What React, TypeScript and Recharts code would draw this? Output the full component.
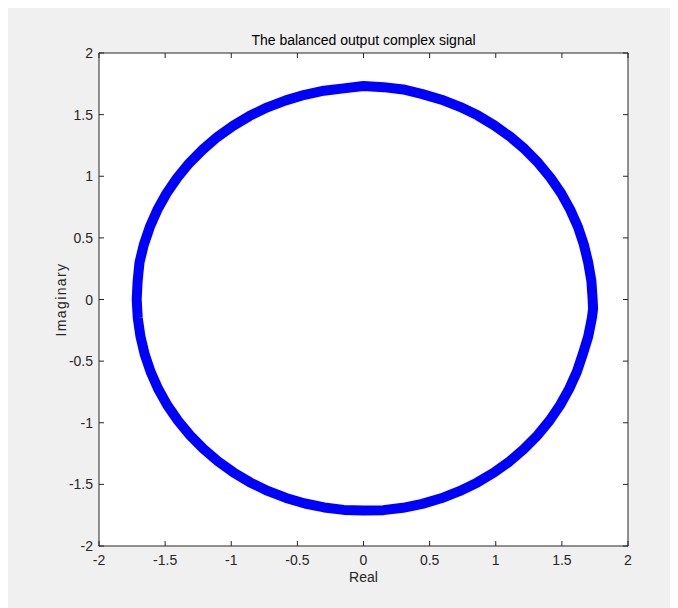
import React from 'react';
import { ScatterChart, Scatter, XAxis, YAxis, CartesianGrid } from 'recharts';

// Points read around the traced curve (counter-clockwise from the right side)
const realValues = [
  1.732, 1.723, 1.699, 1.666, 1.621, 1.563, 1.494, 1.413, 1.321, 1.22,
  1.109, 0.989, 0.863, 0.729, 0.59, 0.446, 0.3, 0.151, 0.0,
  -0.15, -0.299, -0.445, -0.588, -0.727, -0.86, -0.987, -1.106, -1.216,
  -1.318, -1.409, -1.49, -1.559, -1.616, -1.661, -1.694, -1.708, -1.715,
  -1.707, -1.687, -1.655, -1.61, -1.553, -1.484, -1.403, -1.312, -1.211,
  -1.101, -0.983, -0.857, -0.724, -0.586, -0.443, -0.297, -0.149, 0.0,
  0.15, 0.298, 0.444, 0.587, 0.725, 0.858, 0.984, 1.103, 1.213,
  1.315, 1.406, 1.486, 1.555, 1.613, 1.658, 1.699, 1.727, 1.736, 1.732,
];
const imagValues = [
  0.01, 0.151, 0.3, 0.446, 0.59, 0.729, 0.863, 0.989, 1.109, 1.22,
  1.321, 1.413, 1.494, 1.563, 1.621, 1.666, 1.704, 1.723, 1.732,
  1.713, 1.694, 1.661, 1.616, 1.559, 1.49, 1.409, 1.318, 1.216,
  1.106, 0.987, 0.86, 0.727, 0.588, 0.445, 0.299, 0.149, 0.0,
  -0.149, -0.297, -0.443, -0.586, -0.724, -0.857, -0.983, -1.101, -1.211,
  -1.312, -1.403, -1.484, -1.553, -1.61, -1.655, -1.687, -1.707, -1.712,
  -1.709, -1.69, -1.658, -1.613, -1.555, -1.486, -1.406, -1.315, -1.213,
  -1.103, -0.984, -0.858, -0.725, -0.587, -0.444, -0.3, -0.151, -0.075, 0.01,
];
const axisTicks = [-2, -1.5, -1, -0.5, 0, 0.5, 1, 1.5, 2];

const points = realValues.map((re, i) => ({ re, im: imagValues[i] }));

const FONT = '"Liberation Sans", Arial, Helvetica, sans-serif';
const INK = '#262626';

const BottomTick = (props: any) => {
  const { x, y, payload } = props;
  return (
    <g>
      <line x1={x} x2={x} y1={y} y2={y - 5} stroke={INK} strokeWidth={1} />
      <text x={x} y={y + 19} textAnchor="middle" fontSize={14} fontFamily={FONT} fill={INK}>
        {String(payload.value)}
      </text>
    </g>
  );
};

const LeftTick = (props: any) => {
  const { x, y, payload } = props;
  return (
    <g>
      <line x1={x} x2={x + 5} y1={y} y2={y} stroke={INK} strokeWidth={1} />
      <text x={x - 6} y={y + 5} textAnchor="end" fontSize={14} fontFamily={FONT} fill={INK}>
        {String(payload.value)}
      </text>
    </g>
  );
};

const TopTick = (props: any) => {
  const { x, y } = props;
  return <line x1={x} x2={x} y1={y} y2={y + 5} stroke={INK} strokeWidth={1} />;
};

const RightTick = (props: any) => {
  const { x, y } = props;
  return <line x1={x} x2={x - 5} y1={y} y2={y} stroke={INK} strokeWidth={1} />;
};

const YLabel = (props: any) => {
  const vb = props.viewBox || {};
  const cx = vb.x + vb.width - 38;
  const cy = vb.y + vb.height / 2;
  return (
    <text
      x={cx}
      y={cy}
      transform={`rotate(-90, ${cx}, ${cy})`}
      textAnchor="middle"
      dominantBaseline="central"
      fontSize={14}
      fontFamily={FONT}
      fill={INK}
      letterSpacing={1.4}
    >
      Imaginary
    </text>
  );
};

export default function App() {
  return (
    <div style={{ width: 670, height: 600, background: '#f0f0f0' }}>
      <ScatterChart
        width={670}
        height={600}
        margin={{ top: 44, right: 49, bottom: 0, left: 0 }}
        style={{ fontFamily: FONT }}
      >
        <CartesianGrid
          xAxisId="bottom"
          yAxisId="left"
          horizontal={false}
          vertical={false}
          fill="#ffffff"
          fillOpacity={1}
        />
        <XAxis
          xAxisId="bottom"
          dataKey="re"
          type="number"
          orientation="bottom"
          domain={[-2, 2]}
          ticks={axisTicks}
          allowDataOverflow
          height={62}
          tickLine={false}
          tickSize={0}
          tickMargin={0}
          tick={<BottomTick />}
          axisLine={{ stroke: INK }}
          label={{ value: 'Real', position: 'insideTop', offset: 26, fontSize: 14, fill: INK, fontFamily: FONT }}
        />
        <XAxis
          xAxisId="top"
          dataKey="re"
          type="number"
          orientation="top"
          domain={[-2, 2]}
          ticks={axisTicks}
          allowDataOverflow
          height={1}
          tickLine={false}
          tickSize={0}
          tickMargin={0}
          tick={<TopTick />}
          axisLine={{ stroke: INK }}
          label={{ value: 'The balanced output complex signal', position: 'top', offset: 7, fontSize: 14, fill: '#000', fontFamily: FONT }}
        />
        <YAxis
          yAxisId="left"
          dataKey="im"
          type="number"
          orientation="left"
          domain={[-2, 2]}
          ticks={axisTicks}
          allowDataOverflow
          width={91}
          tickLine={false}
          tickSize={0}
          tickMargin={0}
          tick={<LeftTick />}
          axisLine={{ stroke: INK }}
          label={{ content: <YLabel /> } as any}
        />
        <YAxis
          yAxisId="right"
          dataKey="im"
          type="number"
          orientation="right"
          domain={[-2, 2]}
          ticks={axisTicks}
          allowDataOverflow
          width={1}
          tickLine={false}
          tickSize={0}
          tickMargin={0}
          tick={<RightTick />}
          axisLine={{ stroke: INK }}
        />
        <Scatter
          xAxisId="top"
          yAxisId="right"
          data={points}
          shape={() => <g />}
          isAnimationActive={false}
        />
        <Scatter
          xAxisId="bottom"
          yAxisId="left"
          data={points}
          line={{ stroke: '#0000ff', strokeWidth: 10, strokeLinejoin: 'round', strokeLinecap: 'round' } as any}
          lineType="joint"
          shape={() => <g />}
          isAnimationActive={false}
        />
      </ScatterChart>
    </div>
  );
}
